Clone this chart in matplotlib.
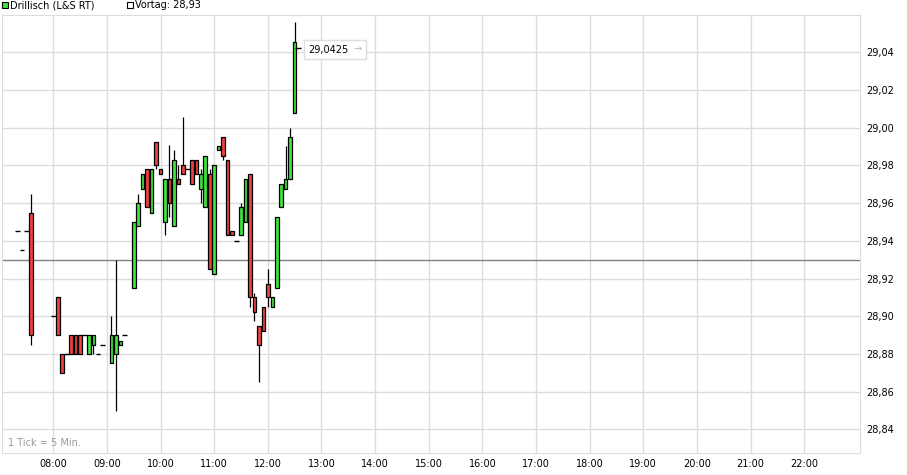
import matplotlib
matplotlib.use('Agg')
import matplotlib.pyplot as plt
from matplotlib.patches import Rectangle
from matplotlib.offsetbox import TextArea, HPacker, AnnotationBbox
import numpy as np

# 5-minute candles
times = ['07:20', '07:25', '07:30', '07:35',
         '08:00', '08:05', '08:10', '08:15', '08:20', '08:25', '08:30', '08:35',
         '08:40', '08:45', '08:50', '08:55', '09:05', '09:10', '09:15', '09:20',
         '09:30', '09:35', '09:40', '09:45', '09:50', '09:55', '10:00', '10:05',
         '10:10', '10:15', '10:20', '10:25', '10:30', '10:35', '10:40', '10:45',
         '10:50', '10:55', '11:00', '11:05', '11:10', '11:15', '11:20', '11:25',
         '11:30', '11:35', '11:40', '11:45', '11:50', '11:55', '12:00', '12:05',
         '12:10', '12:15', '12:20', '12:25', '12:30']
opens = [28.945, 28.935, 28.945, 28.955,
         28.90, 28.91, 28.88, 28.88, 28.89, 28.89, 28.89, 28.89,
         28.88, 28.885, 28.88, 28.885, 28.875, 28.88, 28.885, 28.89,
         28.915, 28.948, 28.9675, 28.978, 28.955, 28.9925, 28.978, 28.950,
         28.973, 28.948, 28.973, 28.98, 28.978, 28.983, 28.983, 28.9675,
         28.958, 28.9755, 28.9225, 28.988, 28.995, 28.983, 28.945, 28.94,
         28.943, 28.950, 28.9755, 28.91, 28.895, 28.905, 28.917, 28.905,
         28.915, 28.958, 28.9675, 28.973, 29.008]
highs = [28.945, 28.935, 28.945, 28.965,
         28.90, 28.91, 28.88, 28.88, 28.89, 28.89, 28.89, 28.89,
         28.89, 28.89, 28.88, 28.885, 28.90, 28.93, 28.887, 28.89,
         28.95, 28.965, 28.9755, 28.978, 28.978, 28.9925, 28.978, 28.973,
         28.991, 28.988, 28.98, 29.0055, 28.978, 28.983, 28.983, 28.978,
         28.985, 28.978, 28.98, 28.9905, 28.995, 28.983, 28.945, 28.94,
         28.96, 28.973, 28.9755, 28.9125, 28.895, 28.905, 28.925, 28.91,
         28.9525, 28.970, 28.9905, 29.00, 29.056]
lows = [28.945, 28.935, 28.945, 28.885,
        28.90, 28.89, 28.87, 28.88, 28.88, 28.88, 28.88, 28.89,
        28.88, 28.88, 28.88, 28.885, 28.875, 28.85, 28.885, 28.89,
        28.915, 28.948, 28.9675, 28.958, 28.955, 28.978, 28.9755, 28.943,
        28.9525, 28.948, 28.970, 28.9755, 28.978, 28.970, 28.9755, 28.96,
        28.958, 28.925, 28.9225, 28.988, 28.983, 28.943, 28.943, 28.94,
        28.943, 28.950, 28.905, 28.8975, 28.865, 28.892, 28.905, 28.905,
        28.915, 28.958, 28.9675, 28.973, 29.008]
closes = [28.945, 28.935, 28.945, 28.89,
          28.90, 28.89, 28.87, 28.88, 28.88, 28.88, 28.88, 28.89,
          28.89, 28.89, 28.88, 28.885, 28.89, 28.89, 28.887, 28.89,
          28.95, 28.96, 28.9755, 28.958, 28.978, 28.98, 28.9755, 28.973,
          28.96, 28.983, 28.970, 28.9755, 28.978, 28.970, 28.9755, 28.9755,
          28.985, 28.925, 28.98, 28.9905, 28.985, 28.943, 28.943, 28.94,
          28.958, 28.973, 28.91, 28.9025, 28.885, 28.892, 28.91, 28.91,
          28.9525, 28.970, 28.973, 28.995, 29.0455]

prev_close = 28.93
last_price = 29.0425
hour_ticks = list(range(8, 23))
price_ticks = [28.84, 28.86, 28.88, 28.90, 28.92, 28.94, 28.96, 28.98, 29.00, 29.02, 29.04]

GREEN = '#3ce63c'
RED = '#ee4040'
GRID = '#dcdcdc'

W, H = 907, 475
fig = plt.figure(figsize=(W / 100, H / 100), dpi=100)
ax = fig.add_axes([2.3 / W, (H - 453.3) / H, 858 / W, 438.3 / H])

x = np.array([int(t[:2]) + int(t[3:]) / 60 for t in times])
o = np.array(opens)
h = np.array(highs)
l = np.array(lows)
c = np.array(closes)

body_w = 4.0 / 60
flat_w = 2.6 / 60

ax.vlines(x, l, h, color='black', lw=0.9, zorder=3)
for xi, oi, ci in zip(x, o, c):
    if oi == ci:
        ax.hlines(oi, xi - flat_w, xi + flat_w, color='black', lw=1.0, zorder=4)
    else:
        col = GREEN if ci > oi else RED
        ax.bar(xi, abs(ci - oi), bottom=min(oi, ci), width=body_w,
               color=col, edgecolor='black', lw=0.9, zorder=4)

ax.axhline(prev_close, color='#808080', lw=1, zorder=2)

ax.set_xlim(7.05, 23.045)
ax.set_ylim(28.8273, 29.0598)
ax.set_xticks(hour_ticks)
ax.set_xticklabels([f'{v:02d}:00' for v in hour_ticks])
ax.set_yticks(price_ticks)
ax.set_yticklabels([f'{v:.2f}'.replace('.', ',') for v in price_ticks])
ax.yaxis.tick_right()
ax.tick_params(length=0, labelsize=7, pad=4, colors='black')
ax.grid(color=GRID, lw=1, zorder=0)
ax.set_axisbelow(True)
for s in ax.spines.values():
    s.set_color(GRID)

# last price marker
ax.hlines(last_price, x[-1], x[-1] + 6 / 53.64, color='black', lw=1, zorder=5)
box = HPacker(children=[TextArea('29,0425', textprops=dict(size=7, color='black')),
                        TextArea('\u2192', textprops=dict(size=7, color='#bbbbbb'))],
              pad=0, sep=3, align='center')
ab = AnnotationBbox(box, (x[-1], last_price), xybox=(14, -2), xycoords='data',
                    boxcoords='offset pixels', box_alignment=(0, 0.5), frameon=True,
                    pad=0.35, bboxprops=dict(ec='#dddddd', fc='white', lw=1))
ab.set_zorder(6)
ax.add_artist(ab)

# header legend
fig.patches.append(Rectangle((1.5 / W, 1 - 8 / H), 6 / W, 6 / H, transform=fig.transFigure,
                             fc=GREEN, ec='black', lw=0.8))
fig.text(10 / W, 1 - 5.5 / H, 'Drillisch (L&S RT)', fontsize=7, va='center')
fig.patches.append(Rectangle((126.5 / W, 1 - 8 / H), 6 / W, 6 / H, transform=fig.transFigure,
                             fc='white', ec='black', lw=0.8))
fig.text(135 / W, 1 - 5.5 / H, 'Vortag: 28,93', fontsize=7, va='center')

fig.text(8 / W, 1 - 443 / H, '1 Tick = 5 Min.', fontsize=7, va='center', color='#999999')

fig.savefig('out.png', dpi=100)
